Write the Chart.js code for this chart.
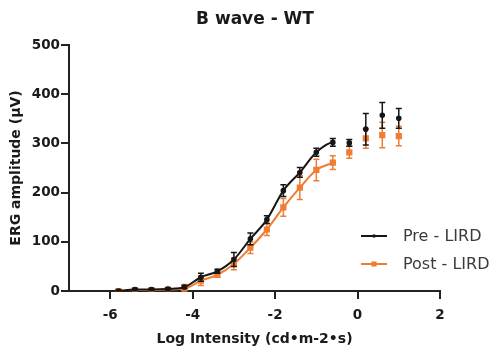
<!DOCTYPE html>
<html>
<head>
<meta charset="utf-8">
<script src="https://cdn.jsdelivr.net/npm/chart.js@4"></script>
<style>
  html, body { margin: 0; padding: 0; background: #fff; }
  #wrap { width: 496px; height: 352px; }
</style>
</head>
<body>
<div id="wrap"><canvas id="ergChart" width="496" height="352"></canvas></div>
<script>
// log intensity steps and mean b-wave amplitude (uV) with SEM
const logIntensity = [-5.8, -5.4, -5.0, -4.6, -4.2, -3.8, -3.4, -3.0, -2.6, -2.2, -1.8, -1.4, -1.0, -0.6, -0.2, 0.2, 0.6, 1.0];
const preMean  = [0, 3, 3, 4, 8, 28, 40, 64, 106, 145, 204, 241, 282, 302, 301, 329, 357, 351];
const preErr   = [2, 2, 2, 2, 3, 8, 4, 14, 12, 8, 12, 10, 8, 8, 7, 32, 26, 20];
const postMean = [0, 2, 2, 3, 5, 21, 33, 55, 88, 125, 170, 210, 246, 261, 282, 310, 317, 315];
const postErr  = [2, 2, 2, 2, 8, 10, 5, 12, 12, 12, 18, 24, 22, 14, 12, 20, 26, 20];
const fitEnd = -0.6;   // the fitted line stops here, later points are plotted alone
const xTicks = [-6, -4, -2, 0, 2];
const seriesNames = ['Pre - LIRD', 'Post - LIRD'];
const seriesColors = ['#161616', '#EF7D32'];

const axisColor = '#222';
const tickFont = { family: 'DejaVu Sans', size: 13.5, weight: 'bold' };
const titleFont = { family: 'DejaVu Sans', size: 14, weight: 'bold' };

function toPoints(means) {
    return logIntensity.map((x, i) => ({ x: x, y: means[i] }));
}

const errorBars = {
    id: 'errorBars',
    beforeDatasetDraw(chart, args) {
        const errs = [preErr, postErr][args.index];
        const means = [preMean, postMean][args.index];
        const ctx = chart.ctx;
        const xs = chart.scales.x, ys = chart.scales.y;
        ctx.save();
        ctx.strokeStyle = seriesColors[args.index];
        ctx.lineWidth = 1.5;
        logIntensity.forEach((v, i) => {
            const px = xs.getPixelForValue(v);
            const top = ys.getPixelForValue(means[i] + errs[i]);
            const bot = ys.getPixelForValue(Math.max(0, means[i] - errs[i]));
            ctx.beginPath();
            ctx.moveTo(px, top); ctx.lineTo(px, bot);
            ctx.moveTo(px - 3, top); ctx.lineTo(px + 3, top);
            ctx.moveTo(px - 3, bot); ctx.lineTo(px + 3, bot);
            ctx.stroke();
        });
        ctx.restore();
    }
};

const extras = {
    id: 'extras',
    afterDraw(chart) {
        const ctx = chart.ctx;
        ctx.save();
        ctx.fillStyle = '#1a1a1a';
        ctx.textAlign = 'center';
        ctx.textBaseline = 'middle';
        ctx.font = 'bold 17px "DejaVu Sans"';
        ctx.fillText('B wave - WT', 255, 20);

        // legend
        ctx.font = '16px "DejaVu Sans"';
        ctx.textAlign = 'left';
        seriesNames.forEach((name, i) => {
            const y = 236 + i * 28;
            ctx.strokeStyle = seriesColors[i];
            ctx.lineWidth = 2;
            ctx.beginPath();
            ctx.moveTo(361, y); ctx.lineTo(387, y);
            ctx.stroke();
            ctx.fillStyle = seriesColors[i];
            if (i === 0) {
                ctx.beginPath(); ctx.arc(374, y, 1.8, 0, Math.PI * 2); ctx.fill();
            } else {
                ctx.fillRect(371.5, y - 2.5, 5, 5);
            }
            ctx.fillStyle = '#3a3a3a';
            ctx.fillText(name, 403, y + 1);
        });
        ctx.restore();
    }
};

function makeDataset(i, means, style, radius) {
    return {
        label: seriesNames[i],
        data: toPoints(means),
        showLine: true,
        borderColor: seriesColors[i],
        backgroundColor: seriesColors[i],
        borderWidth: 2,
        pointStyle: style,
        pointRadius: radius,
        pointHoverRadius: radius,
        cubicInterpolationMode: 'monotone',
        segment: {
            borderColor: c => c.p1.parsed.x > fitEnd ? 'rgba(0,0,0,0)' : undefined
        }
    };
}

const ctx = document.getElementById('ergChart').getContext('2d');
new Chart(ctx, {
    type: 'scatter',
    data: {
        datasets: [
            makeDataset(0, preMean, 'circle', 1.8),
            makeDataset(1, postMean, 'rect', 3)
        ]
    },
    options: {
        responsive: false,
        animation: false,
        layout: { padding: { top: 45, right: 56, left: 0, bottom: 0 } },
        plugins: {
            legend: { display: false },
            tooltip: { enabled: false }
        },
        scales: {
            x: {
                type: 'linear',
                min: -7,
                max: 2,
                afterBuildTicks: s => { s.ticks = xTicks.map(v => ({ value: v })); },
                afterFit: s => { s.height = 61; },
                border: { color: axisColor, width: 2 },
                grid: { drawOnChartArea: false, color: axisColor, lineWidth: 2, tickLength: 8 },
                ticks: { color: '#1a1a1a', font: tickFont, padding: 8, maxRotation: 0 },
                title: {
                    display: true,
                    text: 'Log Intensity (cd•m-2•s)',
                    color: '#1a1a1a',
                    font: titleFont,
                    padding: { top: 0 }
                }
            },
            y: {
                min: 0,
                max: 500,
                ticks: { stepSize: 100, color: '#1a1a1a', font: tickFont, padding: 1 },
                afterFit: s => { s.width = 69; },
                border: { color: axisColor, width: 2 },
                grid: { drawOnChartArea: false, color: axisColor, lineWidth: 2, tickLength: 8 },
                title: {
                    display: true,
                    text: 'ERG amplitude (µV)',
                    color: '#1a1a1a',
                    font: titleFont,
                    padding: { top: 8, bottom: 0 }
                }
            }
        }
    },
    plugins: [errorBars, extras]
});
</script>
</body>
</html>
